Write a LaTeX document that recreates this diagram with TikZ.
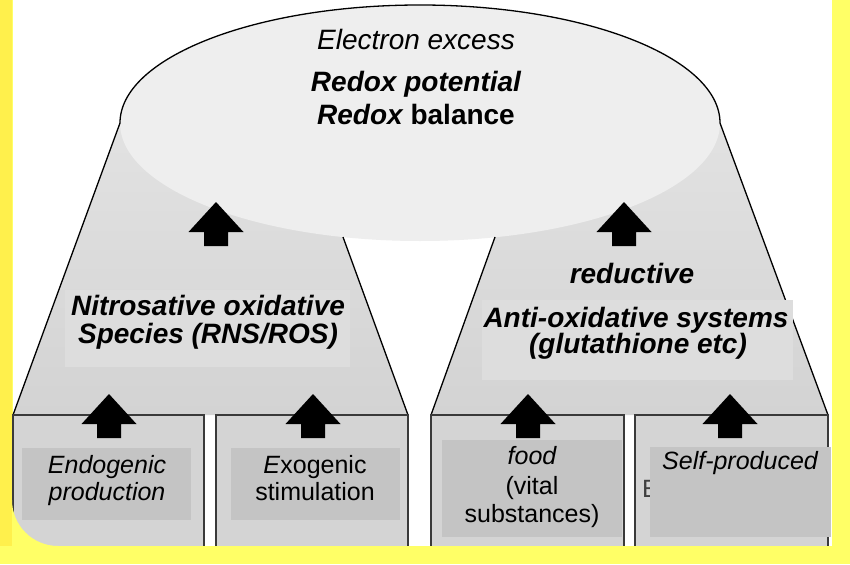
\documentclass[tikz,border=0pt]{standalone}
\usepackage{fontspec}
\setmainfont{Liberation Sans}
\definecolor{yelB}{HTML}{FFFF66}
\definecolor{yelL}{HTML}{FFF04C}
\definecolor{ellfill}{HTML}{EEEEEE}
\definecolor{traptop}{HTML}{E2E2E2}
\definecolor{trapbot}{HTML}{D3D3D3}
\definecolor{txtbox}{HTML}{DDDDDD}
\definecolor{boxgrey}{HTML}{D4D4D4}
\definecolor{labgrey}{HTML}{C4C4C4}
\definecolor{boxline}{HTML}{3A3A3A}
\begin{document}
\begin{tikzpicture}[x=1pt,y=-1pt,
  trap/.style={top color=traptop, bottom color=trapbot, draw=none},
  edgeline/.style={draw=black, line width=1.3pt},
  bottombox/.style={fill=boxgrey, draw=boxline, line width=1.2pt},
  labbox/.style={fill=labgrey, draw=none},
  tbox/.style={fill=txtbox, draw=none},
  bigtxt/.style={font=\fontsize{28}{31}\selectfont\bfseries\itshape, inner sep=0pt, anchor=base},
  midtxt/.style={font=\fontsize{28}{31}\selectfont\itshape, inner sep=0pt, anchor=base},
  smalltxt/.style={font=\fontsize{25}{28}\selectfont, inner sep=0pt, anchor=base},
  uparrow/.pic={\fill[black] (0,0) -- (27.5,30) -- (12,30) -- (12,44) -- (-12,44) -- (-12,30) -- (-27.5,30) -- cycle;}
]
\useasboundingbox (0,0) rectangle (850,564);
\fill[yelB] (0,0) rectangle (850,564);
\fill[white] (13,0) rectangle (832,546);

% funnel parts
\path[trap] (120,123) -- (13,415) -- (408,415) -- (343,237) -- cycle;
\path[trap] (495,237) -- (431,415) -- (828,415) -- (720,123) -- cycle;
\fill[ellfill] (420,123) ellipse [x radius=300, y radius=118];
\draw[edgeline] (120,123) arc[start angle=180, end angle=360, x radius=300, y radius=118];
\draw[edgeline] (120,123) -- (13,415);
\draw[edgeline] (343,237) -- (408,415);
\draw[edgeline] (495,237) -- (431,415);
\draw[edgeline] (720,123) -- (828,415);

% text boxes in trapezoids
\fill[tbox] (65,290) rectangle (350,367);
\fill[tbox] (482,300) rectangle (793,380);

% bottom boxes
\draw[bottombox] (13,415) rectangle (204,552);
\draw[bottombox] (216,415) rectangle (408,552);
\draw[bottombox] (431,415) rectangle (624,552);
\draw[bottombox] (635,415) rectangle (828,552);

% label boxes
\fill[labbox] (22,448) rectangle (191,520);
\fill[labbox] (231,448) rectangle (400,520);
\fill[labbox] (442,440) rectangle (622,537);
\node[smalltxt, text=black!75, anchor=base west] (ghostE) at (642,497) {E};
\fill[labbox] (650,447) rectangle (831,537);

% arrows
\pic at (216,202) {uparrow};
\pic at (624,202) {uparrow};
\pic at (109,394) {uparrow};
\pic at (313,394) {uparrow};
\pic at (528,394) {uparrow};
\pic at (730,394) {uparrow};

% texts
\node[midtxt] (t1) at (416,50) {Electron excess};
\node[bigtxt] (t2) at (416,92) {Redox potential};
\node[bigtxt] (t3) at (416,125) {Redox \upshape balance};
\node[bigtxt] (n1) at (208,315) {Nitrosative oxidative};
\node[bigtxt] (n2) at (208,343) {Species (RNS/ROS)};
\node[bigtxt] (r1) at (632,283) {reductive};
\node[bigtxt] (r2) at (636,327) {Anti-oxidative systems};
\node[bigtxt] (r3) at (638,353) {(glutathione etc)};
\node[smalltxt] (e1) at (107,473) {\itshape Endogenic};
\node[smalltxt] (e2) at (107,500) {\itshape production};
\node[smalltxt] (x1) at (315,473) {\textit{E}xogenic};
\node[smalltxt] (x2) at (315,500) {stimulation};
\node[smalltxt] (f1) at (532,464) {\itshape food};
\node[smalltxt] (f2) at (532,494) {(vital};
\node[smalltxt] (f3) at (532,522) {substances)};
\node[smalltxt] (s1) at (740,469) {\itshape Self-produced};

% yellow frame overlays
\fill[yelB] (0,546) rectangle (850,564);
\fill[yelB] (832,0) rectangle (850,564);
\fill[yelL] (0,0) rectangle (12,546);
\fill[yelB] (12,500) -- (12,546) -- (58,546) arc[start angle=90, end angle=180, radius=46] -- cycle;
\end{tikzpicture}
\end{document}
